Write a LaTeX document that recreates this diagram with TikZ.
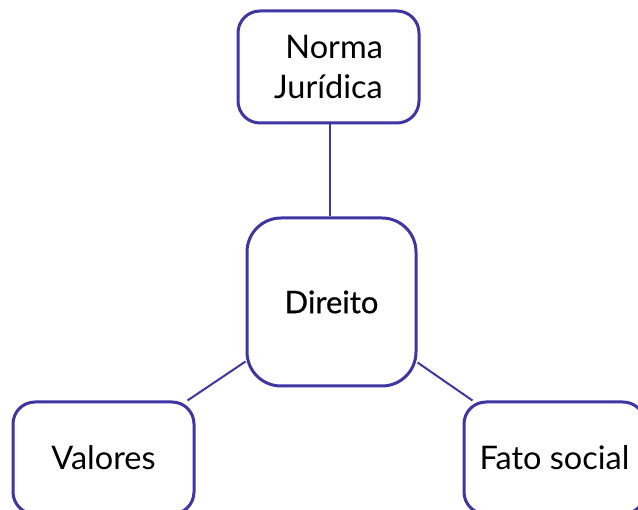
\documentclass[tikz,border=0pt]{standalone}
\usepackage{fontspec}
\setmainfont{Lato}
\newfontfamily\medfont[FakeBold=0.6]{Lato}
\usetikzlibrary{calc}
\definecolor{boxpurple}{HTML}{3F35A3}
\tikzset{
  mapbox/.style={draw=boxpurple, line width=3pt, rounded corners=22pt, fill=white,
    minimum width=181pt, minimum height=112pt, inner sep=0pt, align=center,
    font=\fontsize{32.5}{40}\selectfont, text=black},
  link/.style={draw=boxpurple, line width=2pt}
}
\begin{document}
\begin{tikzpicture}[x=1pt,y=-1pt]
\useasboundingbox (0,0) rectangle (638,510);
\clip (0,0) rectangle (638,510);
\node[mapbox] (norma) at (328.5,67) {\hspace*{0.35em}Norma\\Jurídica};
\node[mapbox, minimum width=169pt, minimum height=168pt, rounded corners=34pt,
  font=\fontsize{31}{36}\selectfont\medfont] (direito) at (331.5,302) {Direito};
\node[mapbox] (valores) at (103.5,458) {Valores};
\node[mapbox] (fato) at (554.5,458) {Fato social};
\draw[link] (norma.south -| 330,0) -- (direito.north -| 330,0);
\draw[link] ($(direito.south west)+(0,-26)$) -- ($(valores.north east)+(-8,0)$);
\draw[link] ($(direito.south east)+(0,-25)$) -- ($(fato.north west)+(10,0)$);
\end{tikzpicture}
\end{document}
